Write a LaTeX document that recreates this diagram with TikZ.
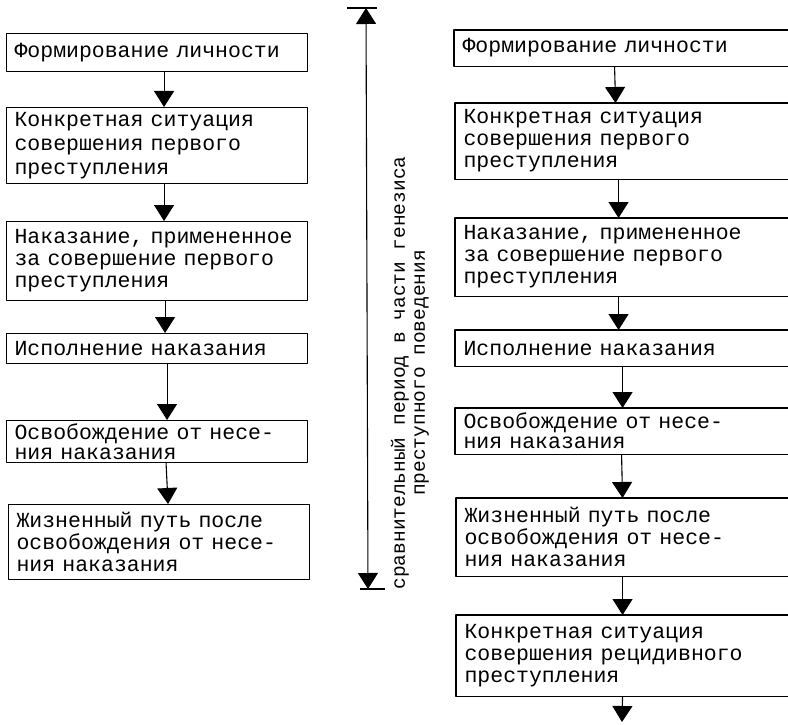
\documentclass[tikz,border=0pt]{standalone}
\usepackage{fontspec}
\setmainfont{Liberation Mono}
\usetikzlibrary{arrows.meta}
\tikzset{
	blok/.style={draw, line width=1.1pt, anchor=north west, align=left, inner xsep=8pt, inner ysep=2pt, font=\fontsize{21.5}{22}\selectfont},
	lblok/.style={blok, text width=285pt},
	rblok/.style={blok, draw=none, text width=320pt},
}
\begin{document}
\begin{tikzpicture}[x=1pt, y=-1pt, >={Triangle[width=20pt,length=16pt]}, line width=1.1pt, line join=round]
	\useasboundingbox (0,0) rectangle (788,725);
	% left column
	\node[lblok, minimum height=38pt] (L1) at (6,33) {Формирование личности};
	\node[lblok, minimum height=76pt, font=\fontsize{21.5}{24}\selectfont] (L2) at (6,107) {Конкретная ситуация\\совершения первого\\преступления};
	\node[lblok, minimum height=79pt] (L3) at (6,221) {Наказание, примененное\\за совершение первого\\преступления};
	\node[lblok, minimum height=30pt] (L4) at (6,333) {Исполнение наказания};
	\node[lblok, minimum height=42pt, font=\fontsize{21.5}{20}\selectfont] (L5) at (6,420) {Освобождение от несе-\\ния наказания};
	\node[lblok, minimum height=75pt] (L6) at (8,504) {Жизненный путь после\\освобождения от несе-\\ния наказания};
	\foreach \a/\b/\s in {L1/L2/7, L2/L3/7, L3/L4/8, L4/L5/10, L5/L6/9}
		\draw[->] ([xshift=\s pt]\a.south) -- ([xshift=\s pt]\b.north);
	% period
	\coordinate (ptop) at (366,8);
	\coordinate (pbot) at (368,589);
	\draw[<->] (ptop) -- (pbot);
	\draw (ptop) ++(-19,0) -- ++(30,0);
	\draw (pbot) ++(-8,0) -- ++(25,0);
	\node[rotate=90, align=center, font=\fontsize{19.5}{20}\selectfont] (period) at (410,373) {сравнительный период в части генезиса\\преступного поведения};
	% right column, cut off at the edge of the page
	\node[rblok, minimum height=35pt] (R1) at (454,30) {Формирование личности};
	\node[rblok, minimum height=75pt] (R2) at (455,103) {Конкретная ситуация\\совершения первого\\преступления};
	\node[rblok, minimum height=77pt] (R3) at (455,218) {Наказание, примененное\\за совершение первого\\преступления};
	\node[rblok, minimum height=35pt] (R4) at (455,330) {Исполнение наказания};
	\node[rblok, minimum height=45pt, font=\fontsize{21.5}{20}\selectfont] (R5) at (455,408) {Освобождение от несе-\\ния наказания};
	\node[rblok, minimum height=77pt] (R6) at (456,498) {Жизненный путь после\\освобождения от несе-\\ния наказания};
	\node[rblok, minimum height=80pt] (R7) at (456,615) {Конкретная ситуация\\совершения рецидивного\\преступления};
	\foreach \r in {R1,R2,R3,R4,R5,R6,R7}
		\draw (\r.north east) -- (\r.north west) -- (\r.south west) -- (\r.south east);
	\foreach \a/\b/\s in {R1/R2/-8, R2/R3/-5, R3/R4/-5, R4/R5/-1, R5/R6/-2, R6/R7/-2}
		\draw[->] ([xshift=\s pt]\a.south) -- ([xshift=\s pt]\b.north);
	\coordinate (rend) at (622,722);
	\draw[->] ([xshift=-2pt]R7.south) -- (rend);
\end{tikzpicture}
\end{document}
